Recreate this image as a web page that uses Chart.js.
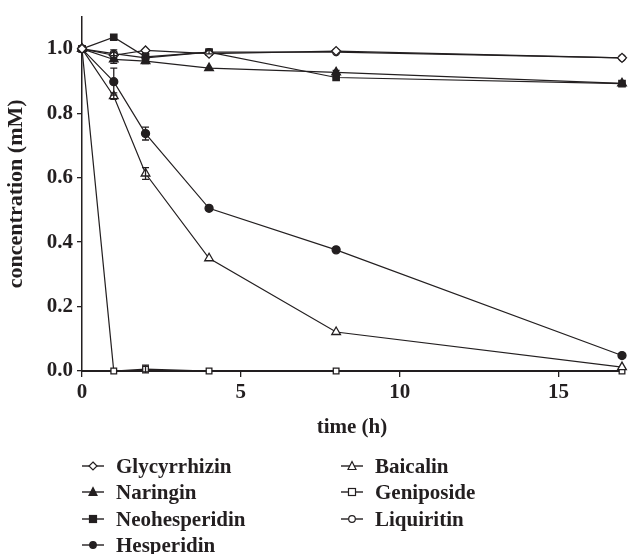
<!DOCTYPE html>
<html>
<head>
<meta charset="utf-8">
<script src="https://cdn.jsdelivr.net/npm/chart.js@4.4.0/dist/chart.umd.min.js"></script>
<style>
    body { margin: 0; background: #fff; }
    #wrap { position: relative; width: 629px; height: 554px; }
    #legend { position: absolute; left: 0; top: 0; width: 629px; height: 554px; pointer-events: none;
              font-family: "Liberation Serif", "DejaVu Serif", serif; font-weight: bold; font-size: 21px; color: #231f20; }
    .item { position: absolute; display: flex; align-items: center; height: 24px; white-space: nowrap; }
    .item svg { margin-right: 12px; }
</style>
</head>
<body>
<div id="wrap">
    <canvas id="chart" width="629" height="554"></canvas>
    <div id="legend"></div>
</div>
<script>
// sampling times (h)
const times = [0, 1, 2, 4, 8, 17];

// concentrations (mM)
const glycyrrhizin  = [1.0, 0.98, 0.995, 0.985, 0.993, 0.972];
const naringin      = [1.0, 0.967, 0.962, 0.94, 0.927, 0.893];
const neohesperidin = [1.0, 1.036, 0.975, 0.99, 0.911, 0.892];
const hesperidin    = [1.0, 0.898, 0.737, 0.505, 0.376, 0.048];
const baicalin      = [1.0, 0.853, 0.613, 0.35, 0.121, 0.012];
const geniposide    = [1.0, 0.0, 0.006, 0.0, 0.0, 0.0];
const liquiritin    = [1.0, 0.985, 0.972, 0.99, 0.99, 0.972];

// error bars (+/-)
const glycyrrhizinErr  = [0, 0.01, 0, 0, 0, 0];
const naringinErr      = [0, 0.012, 0.008, 0, 0.006, 0];
const neohesperidinErr = [0, 0, 0.012, 0.006, 0, 0];
const hesperidinErr    = [0, 0.042, 0.02, 0, 0, 0];
const baicalinErr      = [0, 0.01, 0.018, 0, 0, 0];
const geniposideErr    = [0, 0, 0.012, 0, 0, 0];
const liquiritinErr    = [0, 0.012, 0, 0, 0, 0];

const xTicks = [0, 5, 10, 15];
const yTicks = [0, 0.2, 0.4, 0.6, 0.8, 1.0];

const ink = '#231f20';
const serif = '"Liberation Serif", "DejaVu Serif", serif';

const series = [
    { label: 'Glycyrrhizin',  values: glycyrrhizin,  err: glycyrrhizinErr,  style: 'rectRot',  filled: false, r: 4.5 },
    { label: 'Naringin',      values: naringin,      err: naringinErr,      style: 'triangle', filled: true,  r: 5 },
    { label: 'Neohesperidin', values: neohesperidin, err: neohesperidinErr, style: 'rect',     filled: true,  r: 4.5 },
    { label: 'Hesperidin',    values: hesperidin,    err: hesperidinErr,    style: 'circle',   filled: true,  r: 4 },
    { label: 'Baicalin',      values: baicalin,      err: baicalinErr,      style: 'triangle', filled: false, r: 5 },
    { label: 'Geniposide',    values: geniposide,    err: geniposideErr,    style: 'rect',     filled: false, r: 4 },
    { label: 'Liquiritin',    values: liquiritin,    err: liquiritinErr,    style: 'circle',   filled: false, r: 3.5 }
];

const datasets = series.map(s => ({
    label: s.label,
    data: times.map((t, i) => ({ x: t, y: s.values[i] })),
    errors: s.err,
    borderColor: ink,
    borderWidth: 1.2,
    pointStyle: s.style,
    pointRadius: s.r,
    pointBorderWidth: 1.3,
    pointBorderColor: ink,
    pointBackgroundColor: s.filled ? ink : '#fff',
    clip: false,
    tension: 0
}));

// draws the +/- bars with the chart's own scales
const errorBars = {
    id: 'errorBars',
    afterDatasetsDraw(chart) {
        const ctx = chart.ctx;
        const xs = chart.scales.x, ys = chart.scales.y;
        ctx.save();
        ctx.strokeStyle = ink;
        ctx.lineWidth = 1.3;
        chart.data.datasets.forEach(ds => {
            ds.data.forEach((p, i) => {
                const e = ds.errors[i];
                if (!e) return;
                const px = xs.getPixelForValue(p.x);
                const top = ys.getPixelForValue(p.y + e);
                const bot = ys.getPixelForValue(p.y - e);
                ctx.beginPath();
                ctx.moveTo(px, top); ctx.lineTo(px, bot);
                ctx.moveTo(px - 3.5, top); ctx.lineTo(px + 3.5, top);
                ctx.moveTo(px - 3.5, bot); ctx.lineTo(px + 3.5, bot);
                ctx.stroke();
            });
        });
        ctx.restore();
    }
};

const tickFont = { family: serif, size: 21, weight: 'bold' };
const yTitleFont = { family: serif, size: 22, weight: 'bold' };

new Chart(document.getElementById('chart'), {
    type: 'line',
    data: { datasets },
    plugins: [errorBars],
    options: {
        responsive: false,
        animation: false,
        devicePixelRatio: 1,
        layout: { padding: { top: 14, right: 7, bottom: 113, left: 0 } },
        plugins: { legend: { display: false }, tooltip: { enabled: false } },
        scales: {
            x: {
                type: 'linear',
                min: 0, max: 17,
                afterBuildTicks: s => { s.ticks = xTicks.map(v => ({ value: v })); },
                afterFit: s => { s.height = 70; },
                ticks: { font: tickFont, color: ink, padding: 3 },
                grid: { drawOnChartArea: false, drawTicks: true, tickLength: 6, color: ink, lineWidth: 1.3 },
                border: { color: ink, width: 2 },
                title: { display: true, text: 'time (h)', font: tickFont, color: ink, padding: { top: 0, bottom: 1 } }
            },
            y: {
                type: 'linear',
                min: 0, max: 1.1,
                afterBuildTicks: s => { s.ticks = yTicks.map(v => ({ value: v })); },
                afterFit: s => { s.width = 82; },
                ticks: { font: tickFont, color: ink, padding: 4, callback: v => v.toFixed(1) },
                grid: { drawOnChartArea: false, drawTicks: true, tickLength: 5, color: ink, lineWidth: 1.3 },
                border: { color: ink, width: 1.5 },
                title: { display: true, text: 'concentration (mM)', font: yTitleFont, color: ink, padding: { top: 3, bottom: 0 } }
            }
        }
    }
});

// legend in two columns below the plot
const legendPos = [
    [82, 454], [82, 480], [82, 507], [82, 533],
    [341, 454], [341, 480], [341, 507]
];

const markerSvg = s => {
    const fill = s.filled ? ink : '#fff';
    let m = '';
    if (s.style === 'circle') m = `<circle cx="11" cy="7" r="3.3" fill="${fill}" stroke="${ink}" stroke-width="1.2"/>`;
    if (s.style === 'rect') m = `<rect x="7.5" y="3.5" width="7" height="7" fill="${fill}" stroke="${ink}" stroke-width="1.2"/>`;
    if (s.style === 'rectRot') m = `<polygon points="11,3 15,7 11,11 7,7" fill="${fill}" stroke="${ink}" stroke-width="1.2"/>`;
    if (s.style === 'triangle') m = `<polygon points="11,2.5 15,10.5 7,10.5" fill="${fill}" stroke="${ink}" stroke-width="1.2"/>`;
    return `<svg width="22" height="14"><line x1="0" y1="7" x2="22" y2="7" stroke="${ink}" stroke-width="1.4"/>${m}</svg>`;
};

const legend = document.getElementById('legend');
series.forEach((s, i) => {
    const div = document.createElement('div');
    div.className = 'item';
    div.style.left = legendPos[i][0] + 'px';
    div.style.top = legendPos[i][1] + 'px';
    div.innerHTML = markerSvg(s) + '<span>' + s.label + '</span>';
    legend.appendChild(div);
});
</script>
</body>
</html>
